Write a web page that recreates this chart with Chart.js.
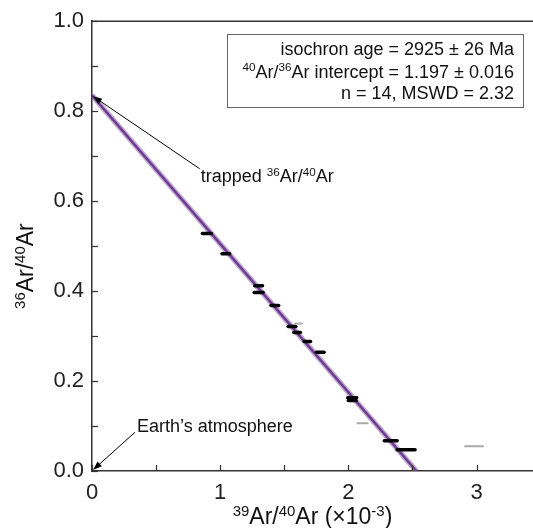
<!DOCTYPE html>
<html lang="en">
<head>
<meta charset="UTF-8">
<title>Ar-Ar isochron</title>
<script src="https://cdn.jsdelivr.net/npm/chart.js"></script>
<style>
  html, body { margin: 0; padding: 0; background: #fff; }
  #wrap { width: 533px; height: 528px; }
</style>
</head>
<body>
<div id="wrap"><canvas id="isochron" width="533" height="528"></canvas></div>
<script>
// steps used in the fit (39Ar/40Ar in 1e-3, 36Ar/40Ar, half width of x error)
const usedX   = [0.896, 1.044, 1.30, 1.30, 1.426, 1.56, 1.60, 1.68, 1.78, 2.03, 2.03, 2.33, 2.45];
const usedY   = [0.528, 0.483, 0.412, 0.397, 0.368, 0.321, 0.308, 0.288, 0.264, 0.163, 0.157, 0.067, 0.047];
const usedErr = [0.035, 0.03, 0.03, 0.035, 0.03, 0.03, 0.025, 0.025, 0.03, 0.035, 0.03, 0.05, 0.07];

// excluded steps (grey)
const exclX   = [1.61, 2.11, 2.98];
const exclY   = [0.328, 0.106, 0.055];
const exclErr = [0.025, 0.04, 0.07];

// isochron fit line
const fitX = [0, 2.53];
const fitY = [0.8354, 0];

// axes
const xTicks = [0, 0.5, 1, 1.5, 2, 2.5, 3];
const yTicks = [0, 0.1, 0.2, 0.3, 0.4, 0.5, 0.6, 0.7, 0.8, 0.9, 1.0];
const xLabeled = [0, 1, 2, 3];
const yLabeled = [0, 0.2, 0.4, 0.6, 0.8, 1.0];

const legendLines = [
  [["isochron age = 2925 ± 26 Ma", false]],
  [["40", true], ["Ar/", false], ["36", true], ["Ar intercept = 1.197 ± 0.016", false]],
  [["n = 14, MSWD = 2.32", false]]
];

const FONT = "'Liberation Sans', Arial, Helvetica, sans-serif";

const toPts = (xs, ys) => xs.map((x, i) => ({ x: x, y: ys[i] }));

function richText(ctx, parts, x, y, size, align) {
  const sup = size * 0.65;
  let w = 0;
  parts.forEach(p => {
    ctx.font = (p[1] ? sup : size) + "px " + FONT;
    w += ctx.measureText(p[0]).width;
  });
  let cx = align === "right" ? x - w : align === "center" ? x - w / 2 : x;
  ctx.textAlign = "left";
  ctx.textBaseline = "alphabetic";
  parts.forEach(p => {
    ctx.font = (p[1] ? sup : size) + "px " + FONT;
    ctx.fillText(p[0], cx, p[1] ? y - size * 0.36 : y);
    cx += ctx.measureText(p[0]).width;
  });
}

function arrow(ctx, x1, y1, x2, y2) {
  const a = Math.atan2(y2 - y1, x2 - x1);
  const len = 9, half = 3.2;
  ctx.strokeStyle = "#000";
  ctx.fillStyle = "#000";
  ctx.lineWidth = 1;
  ctx.beginPath();
  ctx.moveTo(x1, y1);
  ctx.lineTo(x2 - Math.cos(a) * len * 0.8, y2 - Math.sin(a) * len * 0.8);
  ctx.stroke();
  ctx.beginPath();
  ctx.moveTo(x2, y2);
  ctx.lineTo(x2 - Math.cos(a) * len + Math.sin(a) * half, y2 - Math.sin(a) * len - Math.cos(a) * half);
  ctx.lineTo(x2 - Math.cos(a) * len - Math.sin(a) * half, y2 - Math.sin(a) * len + Math.cos(a) * half);
  ctx.closePath();
  ctx.fill();
}

const errorBars = {
  id: "errorBars",
  afterDatasetsDraw(chart) {
    const { ctx, scales: { x, y } } = chart;
    ctx.save();
    ctx.lineCap = "round";
    ctx.strokeStyle = "#aaaaaa";
    ctx.lineWidth = 2;
    exclX.forEach((v, i) => {
      ctx.beginPath();
      ctx.moveTo(x.getPixelForValue(v - exclErr[i]), y.getPixelForValue(exclY[i]));
      ctx.lineTo(x.getPixelForValue(v + exclErr[i]), y.getPixelForValue(exclY[i]));
      ctx.stroke();
    });
    ctx.strokeStyle = "#000";
    ctx.lineWidth = 3.5;
    usedX.forEach((v, i) => {
      ctx.beginPath();
      ctx.moveTo(x.getPixelForValue(v - usedErr[i]), y.getPixelForValue(usedY[i]));
      ctx.lineTo(x.getPixelForValue(v + usedErr[i]), y.getPixelForValue(usedY[i]));
      ctx.stroke();
    });
    ctx.restore();
  }
};

const decorations = {
  id: "decorations",
  afterDraw(chart) {
    const { ctx, chartArea: a, scales: { x, y } } = chart;
    ctx.save();
    // top frame line
    ctx.strokeStyle = "#333";
    ctx.lineWidth = 1.5;
    ctx.beginPath();
    ctx.moveTo(a.left, a.top);
    ctx.lineTo(a.right, a.top);
    ctx.stroke();
    // inward ticks
    ctx.lineWidth = 1.2;
    xTicks.forEach(v => {
      const px = Math.round(x.getPixelForValue(v)) + 0.5;
      ctx.beginPath();
      ctx.moveTo(px, a.bottom);
      ctx.lineTo(px, a.bottom - 6);
      ctx.stroke();
    });
    yTicks.forEach(v => {
      const py = Math.round(y.getPixelForValue(v)) + 0.5;
      ctx.beginPath();
      ctx.moveTo(a.left, py);
      ctx.lineTo(a.left + 6, py);
      ctx.stroke();
    });

    // axis titles
    ctx.fillStyle = "#111";
    richText(ctx, [["39", true], ["Ar/", false], ["40", true], ["Ar (×10", false], ["-3", true], [")", false]],
      (a.left + a.right) / 2, 524, 23, "center");
    ctx.save();
    ctx.translate(33, (a.top + a.bottom) / 2 + 20);
    ctx.rotate(-Math.PI / 2);
    richText(ctx, [["36", true], ["Ar/", false], ["40", true], ["Ar", false]], 0, 0, 23, "center");
    ctx.restore();

    // stats box
    ctx.strokeStyle = "#666";
    ctx.lineWidth = 1;
    ctx.fillStyle = "#fff";
    ctx.fillRect(227.5, 34.5, 296, 73);
    ctx.strokeRect(227.5, 34.5, 296, 73);
    ctx.fillStyle = "#111";
    const base = [55, 77.5, 98.5];
    legendLines.forEach((ln, i) => richText(ctx, ln, 514, base[i], 18, "right"));

    // annotations
    const trapTail = { x: x.getPixelForValue(0.84), y: y.getPixelForValue(0.672) };
    arrow(ctx, trapTail.x, trapTail.y, x.getPixelForValue(fitX[0]) + 1, y.getPixelForValue(fitY[0]) + 1);
    ctx.fillStyle = "#111";
    richText(ctx, [["trapped ", false], ["36", true], ["Ar/", false], ["40", true], ["Ar", false]],
      trapTail.x + 1, 182, 18, "left");
    const atmTail = { x: x.getPixelForValue(0.335), y: y.getPixelForValue(0.086) };
    arrow(ctx, atmTail.x, atmTail.y, x.getPixelForValue(0) + 1, y.getPixelForValue(0) - 1);
    ctx.fillStyle = "#111";
    richText(ctx, [["Earth’s atmosphere", false]], atmTail.x + 2, 432, 18, "left");
    ctx.restore();
  }
};

new Chart(document.getElementById("isochron"), {
  type: "scatter",
  data: {
    datasets: [
      {
        type: "line",
        data: toPts(fitX, fitY),
        borderColor: "rgba(130, 90, 155, 0.5)",
        borderWidth: 5.5,
        pointRadius: 0,
        fill: false
      },
      {
        type: "line",
        data: toPts(fitX, fitY),
        borderColor: "#5e1a8c",
        borderWidth: 2.5,
        pointRadius: 0,
        fill: false
      },
      { data: toPts(usedX, usedY), pointRadius: 0 },
      { data: toPts(exclX, exclY), pointRadius: 0 }
    ]
  },
  options: {
    responsive: false,
    animation: false,
    devicePixelRatio: 1,
    layout: { padding: { top: 20, right: 0, left: 0, bottom: 0 } },
    plugins: { legend: { display: false }, tooltip: { enabled: false } },
    scales: {
      x: {
        type: "linear",
        min: 0,
        max: 3.44,
        afterFit: s => { s.height = 57; },
        afterBuildTicks: s => { s.ticks = xTicks.map(v => ({ value: v })); },
        grid: { display: false, drawTicks: false },
        border: { display: true, color: "#333", width: 1.5 },
        ticks: {
          autoSkip: false,
          maxRotation: 0,
          padding: 9,
          color: "#222",
          font: { family: FONT, size: 22 },
          callback: v => (xLabeled.includes(v) ? String(v) : "")
        }
      },
      y: {
        type: "linear",
        min: 0,
        max: 1.0,
        afterFit: s => { s.width = 92; },
        afterBuildTicks: s => { s.ticks = yTicks.map(v => ({ value: v })); },
        grid: { display: false, drawTicks: false },
        border: { display: true, color: "#333", width: 1.5 },
        ticks: {
          autoSkip: false,
          padding: 8,
          color: "#222",
          font: { family: FONT, size: 22 },
          callback: v => (yLabeled.some(t => Math.abs(t - v) < 1e-9) ? v.toFixed(1) : "")
        }
      }
    }
  },
  plugins: [errorBars, decorations]
});
</script>
</body>
</html>
